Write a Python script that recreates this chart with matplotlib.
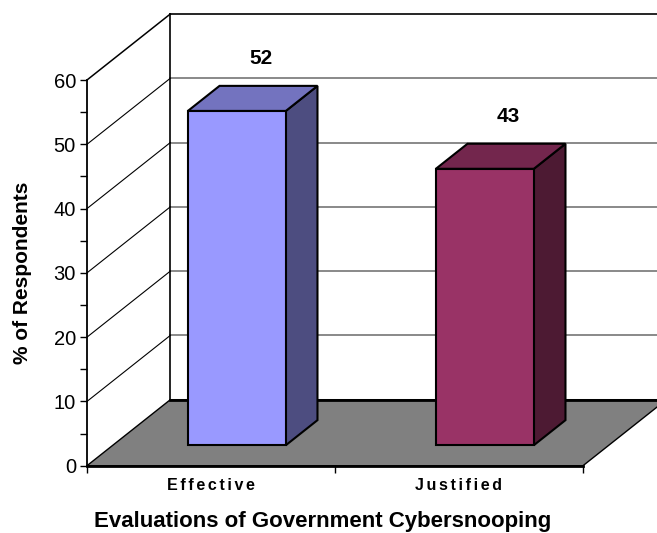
import matplotlib
matplotlib.use("Agg")
import matplotlib.pyplot as plt
from matplotlib.patches import Polygon

plt.rcParams['font.family'] = ['Liberation Sans', 'DejaVu Sans']

# survey results
categories = ["Effective", "Justified"]
values = [52, 43]
y_ticks = [0, 10, 20, 30, 40, 50, 60]
y_label = "% of Respondents"
x_label = "Evaluations of Government Cybersnooping"

front_colors = ["#9999FF", "#993366"]
top_colors = ["#7373BF", "#73264D"]
side_colors = ["#4D4D80", "#4D1A33"]

# 3d look: offset of the back plane, in data units
DX = 0.336
DY = 10.27
BAR_W = 0.395
D0, D1 = 0.31, 0.69


def pt(x, v, d):
    return (x + d * DX, v + d * DY)


fig = plt.figure(figsize=(6.57, 5.33), dpi=100)
ax = fig.add_axes([87 / 657, 67.3 / 533, 496 / 657, 385.7 / 533])
ax.set_xlim(0, len(categories))
ax.set_ylim(y_ticks[0], y_ticks[-1])
ax.patch.set_alpha(0)

ymax = y_ticks[-1]
xmax = len(categories)

# back wall
ax.add_patch(Polygon([pt(0, 0, 1), pt(xmax, 0, 1), pt(xmax, ymax, 1), pt(0, ymax, 1)],
                     closed=True, facecolor="white", edgecolor="none", clip_on=False, zorder=1))
for v in y_ticks[1:-1]:
    a, b = pt(0, v, 1), pt(xmax, v, 1)
    ax.plot([a[0], b[0]], [a[1], b[1]], color="#808080", lw=1.3, clip_on=False, zorder=2)
a, b = pt(0, ymax, 1), pt(xmax, ymax, 1)
ax.plot([a[0], b[0]], [a[1], b[1]], color="black", lw=1.2, clip_on=False, zorder=2)
a, b = pt(0, 0, 1), pt(0, ymax, 1)
ax.plot([a[0], b[0]], [a[1], b[1]], color="black", lw=1.2, clip_on=False, zorder=2)

# side wall lines
for v in y_ticks[1:]:
    b = pt(0, v, 1)
    ax.plot([0, b[0]], [v, b[1]], color="black", lw=0.8 if v < ymax else 1.1,
            clip_on=False, zorder=2)

# floor
ax.add_patch(Polygon([pt(0, 0, 0), pt(xmax, 0, 0), pt(xmax, 0, 1), pt(0, 0, 1)],
                     closed=True, facecolor="#808080", edgecolor="black", lw=1.0,
                     clip_on=False, zorder=3))
a, b = pt(0, 0, 1), pt(xmax, 0, 1)
ax.plot([a[0], b[0]], [a[1], b[1]], color="black", lw=2.0, clip_on=False, zorder=3)

# bars
for i, v in enumerate(values):
    x0 = i + 0.5 - BAR_W / 2
    x1 = i + 0.5 + BAR_W / 2
    side = [pt(x1, 0, D0), pt(x1, 0, D1), pt(x1, v, D1), pt(x1, v, D0)]
    top = [pt(x0, v, D0), pt(x1, v, D0), pt(x1, v, D1), pt(x0, v, D1)]
    front = [pt(x0, 0, D0), pt(x1, 0, D0), pt(x1, v, D0), pt(x0, v, D0)]
    for poly, col in [(side, side_colors[i]), (top, top_colors[i]), (front, front_colors[i])]:
        ax.add_patch(Polygon(poly, closed=True, facecolor=col, edgecolor="black",
                             lw=1.5, joinstyle="miter", clip_on=False, zorder=4))
    ax.text(i + 0.5 + 0.2, v + 11.3, str(v), ha="center", va="center",
            fontsize=15, fontweight="bold", zorder=5)

# axes
for s in ["top", "right"]:
    ax.spines[s].set_visible(False)
ax.spines["left"].set_linewidth(1.3)
ax.spines["bottom"].set_linewidth(2.0)
ax.spines["left"].set_zorder(6)
ax.spines["bottom"].set_zorder(6)

ax.set_yticks(y_ticks)
ax.set_yticks(range(5, ymax, 10), minor=True)
ax.tick_params(axis="y", which="both", direction="out", length=5, width=1.0,
               labelsize=14.5, pad=3)

ax.set_xticks(range(xmax + 1))
ax.set_xticklabels([])
ax.set_xticks([i + 0.5 for i in range(xmax)], minor=True)
# spaced-out category names
ax.set_xticklabels(["\u2006".join(c) for c in categories], minor=True,
                   fontsize=11.5, fontweight="bold")
ax.tick_params(axis="x", which="major", direction="out", length=5, width=1.0)
ax.tick_params(axis="x", which="minor", length=0, pad=9)

fig.text(23 / 657, 1 - 273 / 533, y_label, rotation=90, ha="center", va="center",
         fontsize=15, fontweight="bold")
fig.text(323 / 657, 1 - 522 / 533, x_label, ha="center", va="center",
         fontsize=16, fontweight="bold")

fig.savefig("out.png", dpi=100)
